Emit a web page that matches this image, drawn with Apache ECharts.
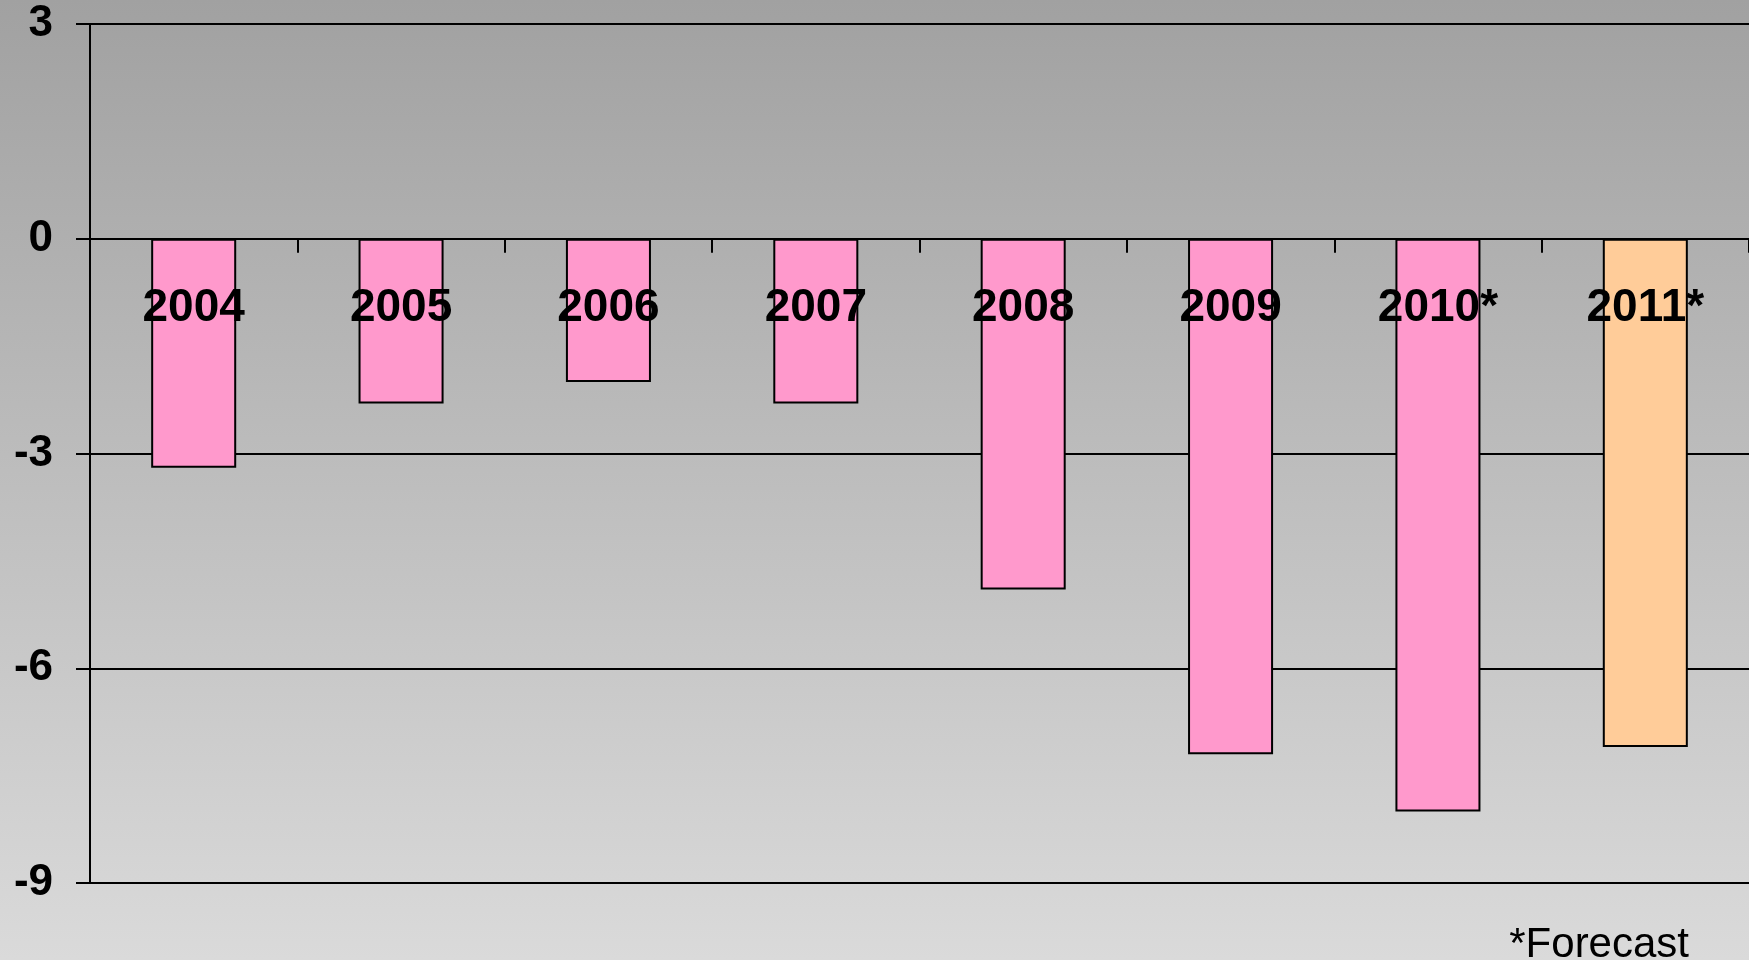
<!DOCTYPE html>
<html>
<head>
<meta charset="utf-8">
<script src="https://cdn.jsdelivr.net/npm/echarts@6/dist/echarts.min.js"></script>
<style>
  html, body { margin: 0; padding: 0; }
  #chart { width: 1749px; height: 960px; }
</style>
</head>
<body>
<div id="chart"></div>
<script>
// Yearly balance, % (2010 and 2011 are forecasts)
const years = ['2004', '2005', '2006', '2007', '2008', '2009', '2010*', '2011*'];
const balance = [-3.2, -2.3, -2.0, -2.3, -4.9, -7.2, -8.0, -7.1];
const forecastFrom = 7; // index whose bar is drawn in the forecast colour
const yTicks = { min: -9, max: 3, step: 3 };
const footnote = '*Forecast';

const font = '"Liberation Sans", Arial, sans-serif';

const chart = echarts.init(document.getElementById('chart'));
chart.setOption({
  animation: false,
  backgroundColor: new echarts.graphic.LinearGradient(0, 0, 0, 1, [
    { offset: 0, color: '#a1a1a1' },
    { offset: 1, color: '#dadada' }
  ]),
  title: {
    text: footnote,
    right: 55,
    top: 919,
    textStyle: { fontFamily: font, fontSize: 42, fontWeight: 'normal', color: '#000' }
  },
  grid: { left: 90, right: 0, top: 24, bottom: 77, containLabel: false, outerBoundsMode: 'none' },
  xAxis: {
    type: 'category',
    data: years,
    axisLine: { onZero: true, lineStyle: { color: '#000', width: 2 } },
    axisTick: { show: true, length: 14, lineStyle: { color: '#000', width: 2 } },
    axisLabel: { show: false },
    splitLine: { show: false }
  },
  yAxis: {
    type: 'value',
    min: yTicks.min,
    max: yTicks.max,
    interval: yTicks.step,
    axisLine: { show: true, lineStyle: { color: '#000', width: 2 } },
    axisTick: { show: true, length: 14, lineStyle: { color: '#000', width: 2 } },
    axisLabel: {
      margin: 37,
      fontFamily: font,
      fontSize: 44,
      fontWeight: 'bold',
      color: '#000'
    },
    splitLine: { show: true, lineStyle: { color: '#000', width: 2 } }
  },
  series: [{
    type: 'bar',
    barWidth: '41%',
    data: balance.map((v, i) => ({
      value: v,
      itemStyle: { color: i >= forecastFrom ? '#ffcc99' : '#ff99cc' }
    })),
    itemStyle: { borderColor: '#000', borderWidth: 2 }
  }, {
    // category names written just under the zero line, over the bars
    type: 'custom',
    z: 10,
    silent: true,
    data: years.map((y, i) => [i, 0]),
    renderItem: function (params, api) {
      const p = api.coord([api.value(0), api.value(1)]);
      return {
        type: 'text',
        x: p[0],
        y: p[1] + 70,
        style: {
          text: years[params.dataIndex],
          align: 'center',
          verticalAlign: 'middle',
          fontFamily: font,
          fontSize: 46,
          fontWeight: 'bold',
          fill: '#000'
        }
      };
    }
  }]
});
</script>
</body>
</html>
